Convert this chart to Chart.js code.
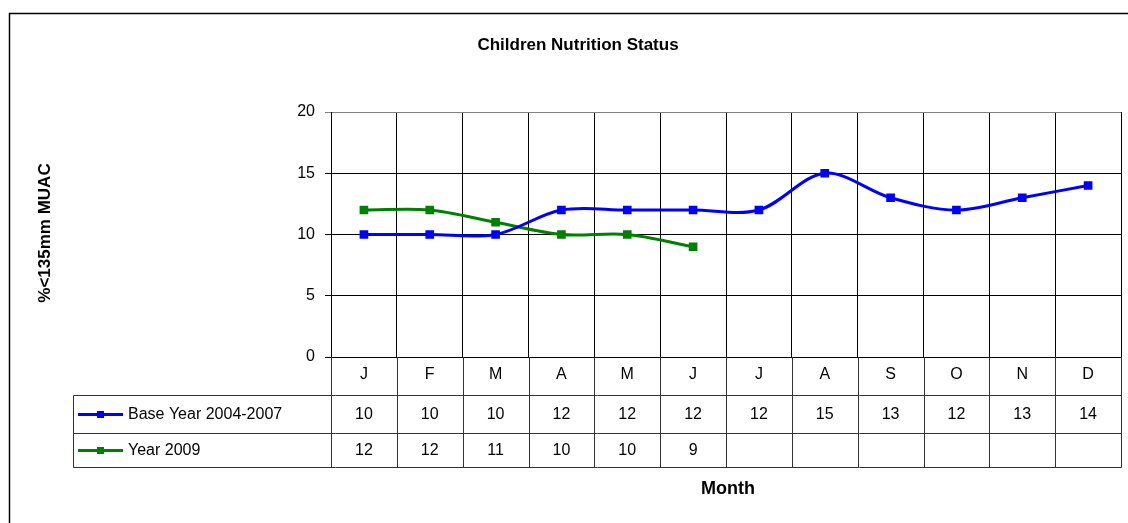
<!DOCTYPE html>
<html>
<head>
<meta charset="utf-8">
<script src="https://cdn.jsdelivr.net/npm/chart.js@4/dist/chart.umd.min.js"></script>
<style>
  html,body{margin:0;padding:0;background:#fff;}
  canvas{display:block;}
</style>
</head>
<body>
<canvas id="nutritionChart" width="1128" height="523"></canvas>
<script>
// valeurs
const months = ['J','F','M','A','M','J','J','A','S','O','N','D'];
const baseYear = [10,10,10,12,12,12,12,15,13,12,13,14];
const year2009 = [12,12,11,10,10,9];
const seriesNames = ['Base Year 2004-2007','Year 2009'];
const seriesColors = ['#0000ff','#008000'];
const yTicks = [0,5,10,15,20];

const FONT = '"Liberation Sans", Arial, sans-serif';
const TABLE_LEFT = 73.5, ROW1 = 395.5, ROW2 = 433.5, ROW3 = 467.5;

// table + titres dessinés après le graphique
const tablePlugin = {
  id:'dataTable',
  afterDraw(chart){
    const c = chart.ctx, area = chart.chartArea, xs = chart.scales.x;
    c.save();
    // cadre extérieur
    c.strokeStyle = '#000'; c.lineWidth = 1.5;
    c.strokeRect(9.5, 13.5, 1400, 700);

    c.fillStyle = '#000'; c.textAlign = 'center'; c.textBaseline = 'middle';
    c.font = 'bold 17px ' + FONT;
    c.fillText('Children Nutrition Status', 578, 45);
    c.font = 'bold 18px ' + FONT;
    c.fillText('Month', 728, 489);
    c.save();
    c.translate(45, 233); c.rotate(-Math.PI/2);
    c.font = 'bold 17px ' + FONT;
    c.fillText('%<135mm MUAC', 0, 0);
    c.restore();

    // lignes du tableau
    c.strokeStyle = '#333'; c.lineWidth = 1;
    const right = Math.round(area.right) + 0.5;
    [ROW1, ROW2, ROW3].forEach(y=>{ c.beginPath(); c.moveTo(TABLE_LEFT, y); c.lineTo(right, y); c.stroke(); });
    c.beginPath(); c.moveTo(TABLE_LEFT, ROW1); c.lineTo(TABLE_LEFT, ROW3); c.stroke();
    const w = (area.right - area.left) / months.length;
    for(let i=0;i<=months.length;i++){
      const x = Math.round(area.left + i*w) + 0.5;
      c.beginPath(); c.moveTo(x, area.bottom); c.lineTo(x, ROW3); c.stroke();
    }

    // valeurs + légende
    const rows = [baseYear, year2009], rowY = [(ROW1+ROW2)/2, (ROW2+ROW3)/2];
    rows.forEach((vals, r)=>{
      const y = rowY[r];
      c.strokeStyle = seriesColors[r]; c.lineWidth = 3;
      c.beginPath(); c.moveTo(78, y); c.lineTo(123, y); c.stroke();
      c.fillStyle = seriesColors[r]; c.fillRect(97, y-3.5, 7, 7);
      c.fillStyle = '#000'; c.font = '16px ' + FONT;
      c.textAlign = 'left'; c.fillText(seriesNames[r], 128, y);
      c.textAlign = 'center';
      vals.forEach((v,i)=>{ c.fillText(String(v), xs.getPixelForValue(i), y); });
    });
    c.restore();
  }
};

new Chart(document.getElementById('nutritionChart').getContext('2d'), {
  type:'line',
  data:{
    labels: months,
    datasets: [
      {label:seriesNames[0], data:baseYear, borderColor:seriesColors[0], backgroundColor:seriesColors[0], borderWidth:3, pointStyle:'rect', pointRadius:4, pointHoverRadius:4, tension:0.33, fill:false},
      {label:seriesNames[1], data:year2009, borderColor:seriesColors[1], backgroundColor:seriesColors[1], borderWidth:3, pointStyle:'rect', pointRadius:4, pointHoverRadius:4, tension:0.33, fill:false}
    ]
  },
  options:{
    responsive:false, animation:false,
    layout:{padding:{left:281, right:-4, top:112, bottom:128}},
    plugins:{legend:{display:false}, title:{display:false}, tooltip:{enabled:false}},
    scales:{
      x:{
        offset:true,
        grid:{offset:true, drawTicks:false, color:ctx=>ctx.index===months.length?'#808080':'#000'},
        border:{color:'#000'},
        ticks:{color:'#000', font:{family:FONT, size:16}, padding:8, maxRotation:0, autoSkip:false},
        afterFit(s){ s.height = 38; s.paddingLeft = 0; s.paddingRight = 0; }
      },
      y:{
        min:0, max:20,
        afterBuildTicks(s){ s.ticks = yTicks.map(v=>({value:v})); },
        grid:{tickLength:6, color:ctx=>(ctx.tick && ctx.tick.value===20)?'#808080':'#000'},
        border:{color:'#000'},
        ticks:{color:'#000', font:{family:FONT, size:16}, padding:10},
        afterFit(s){ s.width = 50; s.paddingTop = 0; s.paddingBottom = 0; }
      }
    }
  },
  plugins:[tablePlugin]
});
</script>
</body>
</html>
